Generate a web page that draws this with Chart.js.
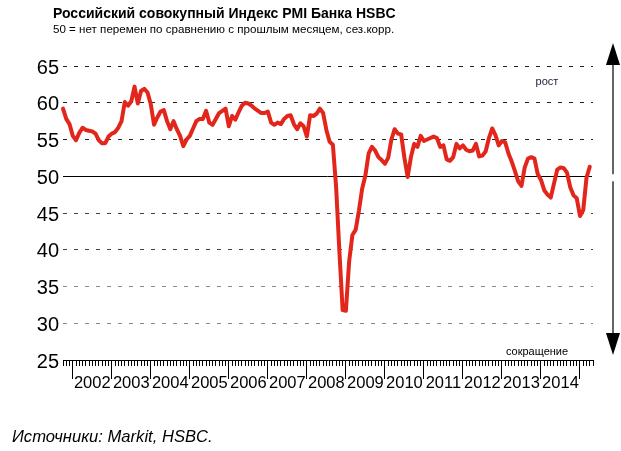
<!DOCTYPE html>
<html>
<head>
<meta charset="utf-8">
<script src="https://cdn.jsdelivr.net/npm/chart.js@4.4.0/dist/chart.umd.min.js"></script>
<style>
    body { margin: 0; background: #fff; }
    #wrap { position: relative; width: 621px; height: 451px; font-family: "Liberation Sans", Arial, sans-serif; color: #000; }
    #chart { position: absolute; left: 0; top: 0; }
    .title { position: absolute; left: 53px; top: 5px; font-weight: bold; font-size: 14px; white-space: nowrap; }
    .sub { position: absolute; left: 53px; top: 22px; font-size: 11.6px; white-space: nowrap; }
    .src { position: absolute; left: 12px; top: 427px; font-style: italic; font-size: 16.6px; white-space: nowrap; }
</style>
</head>
<body>
<div id="wrap">
    <canvas id="chart" width="621" height="451"></canvas>
    <div class="title">Российский совокупный Индекс PMI Банка HSBC</div>
    <div class="sub">50 = нет перемен по сравнению с прошлым месяцем, сез.корр.</div>
    <div class="src">Источники: Markit, HSBC.</div>
</div>
<script>
//первый месяц ряда: октябрь 2001
var startYear = 2001
var startMonth = 10
//композитный PMI, помесячно (окт 2001 - апр 2015)
var pmi = [
    59.2, 57.8, 57.1,
    55.5, 54.9, 55.9, 56.6, 56.3, 56.2, 56.1, 55.8, 54.9, 54.5, 54.5, 55.4,
    55.8, 56.0, 56.6, 57.5, 60.1, 59.6, 60.2, 62.2, 59.9, 61.6, 61.9, 61.4,
    59.8, 57.0, 58.0, 58.8, 59.0, 57.5, 56.4, 57.5, 56.4, 55.5, 54.1, 55.0,
    55.5, 56.5, 57.5, 57.8, 57.8, 58.9, 57.3, 57.0, 57.8, 58.6, 58.9, 59.2,
    56.8, 58.2, 57.7, 58.7, 59.6, 60.0, 59.9, 59.6, 59.2, 58.9, 58.6, 58.6,
    58.8, 57.3, 57.0, 57.3, 57.1, 57.8, 58.2, 58.3, 57.1, 56.4, 57.2, 56.8,
    55.4, 58.3, 58.2, 58.5, 59.2, 58.6, 56.3, 54.7, 54.3, 48.5, 39.8, 31.8,
    31.7, 38.4, 42.0, 42.7, 45.3, 48.3, 50.1, 53.1, 54.0, 53.5, 52.6, 52.2,
    51.7, 52.5, 55.0, 56.4, 55.8, 55.7, 52.5, 49.9, 52.6, 54.4, 54.0, 55.5,
    54.8, 55.0, 55.2, 55.4, 55.2, 54.0, 54.2, 52.3, 52.1, 52.6, 54.4, 53.8,
    54.2, 53.6, 53.4, 53.5, 54.4, 52.7, 52.8, 53.4, 55.2, 56.5, 55.6, 54.2,
    54.8, 54.6, 53.1, 52.0, 50.7, 49.3, 48.7, 51.2, 52.4, 52.6, 52.4, 50.3,
    49.5, 48.1, 47.5, 47.1, 49.0, 50.9, 51.2, 51.1, 50.5, 48.5, 47.4, 47.0,
    44.6, 45.4, 49.8, 51.3
]
var yearLabels = ['2002', '2003', '2004', '2005', '2006', '2007', '2008',
    '2009', '2010', '2011', '2012', '2013', '2014']
var yTicks = [25, 30, 35, 40, 45, 50, 55, 60, 65]

var $font = '"Liberation Sans", Arial, sans-serif'
//ось x: месяцы от января 2002
var offset = (startYear - 2002) * 12 + (startMonth - 1)
var points = pmi.map(function (v, i) { return { x: offset + i, y: v } })
var xMin = offset
var xMax = offset + pmi.length
var monthTicks = []
for (var m = xMin; m <= xMax; m++) monthTicks.push({ value: m })
var yearTicks = []
for (var k = 0; k <= yearLabels.length; k++) yearTicks.push({ value: k * 12 })

//линия 50, стрелка и подписи рост/сокращение
var extras = {
    id: 'extras',
    beforeDatasetsDraw: function (chart) {
        var ctx = chart.ctx, area = chart.chartArea, y = chart.scales.y
        var py = Math.round(y.getPixelForValue(50)) + 0.5
        ctx.save()
        ctx.strokeStyle = '#000'
        ctx.lineWidth = 1
        ctx.beginPath()
        ctx.moveTo(area.left, py)
        ctx.lineTo(area.right - 1, py)
        ctx.stroke()
        ctx.restore()
    },
    afterDraw: function (chart) {
        var ctx = chart.ctx, area = chart.chartArea, y = chart.scales.y
        var ax = area.right + 20
        var top = area.top - 23
        var bottom = area.bottom - 5
        var mid = y.getPixelForValue(50)
        ctx.save()
        ctx.strokeStyle = '#000'
        ctx.fillStyle = '#000'
        ctx.lineWidth = 1.2
        ctx.beginPath()
        ctx.moveTo(ax, top + 10); ctx.lineTo(ax, mid - 2)
        ctx.moveTo(ax, mid + 5); ctx.lineTo(ax, bottom - 10)
        ctx.stroke()
        ctx.beginPath()
        ctx.moveTo(ax, top); ctx.lineTo(ax - 7, top + 22); ctx.lineTo(ax + 7, top + 22)
        ctx.closePath(); ctx.fill()
        ctx.beginPath()
        ctx.moveTo(ax, bottom); ctx.lineTo(ax - 7, bottom - 22); ctx.lineTo(ax + 7, bottom - 22)
        ctx.closePath(); ctx.fill()
        ctx.font = '11px ' + $font
        ctx.textAlign = 'center'
        ctx.textBaseline = 'middle'
        ctx.fillStyle = '#1c1c3c'
        ctx.fillText('рост', area.right - 46, y.getPixelForValue(62.8))
        ctx.fillStyle = '#000'
        ctx.fillText('сокращение', area.right - 56, area.bottom - 8)
        ctx.restore()
    }
}

var ctx = document.getElementById('chart').getContext('2d')
var chart = new Chart(ctx, {
    type: 'line',
    data: {
        datasets: [{
            data: points,
            borderColor: '#e3261c',
            borderWidth: 4,
            pointRadius: 0,
            tension: 0,
            fill: false,
            borderJoinStyle: 'round',
            borderCapStyle: 'round',
            clip: false
        }]
    },
    options: {
        responsive: false,
        animation: false,
        layout: { padding: { left: 0, right: 28, top: 66, bottom: 91 } },
        plugins: { legend: { display: false }, tooltip: { enabled: false } },
        scales: {
            x: {
                type: 'linear', min: xMin, max: xMax, position: { y: 25 },
                afterBuildTicks: function (s) { s.ticks = monthTicks },
                grid: { drawOnChartArea: false, tickLength: 5, tickColor: '#000', tickWidth: 1 },
                border: { display: true, color: '#000', width: 1 },
                ticks: { display: false, autoSkip: false }
            },
            x2: {
                type: 'linear', axis: 'x', min: xMin, max: xMax, position: { y: 25 },
                afterBuildTicks: function (s) { s.ticks = yearTicks },
                grid: { drawOnChartArea: false, tickLength: 19, tickColor: '#000', tickWidth: 1 },
                border: { display: false },
                ticks: {
                    autoSkip: false, maxRotation: 0, minRotation: 0,
                    labelOffset: 19.5, padding: -5, color: '#000',
                    font: { size: 16.5, family: $font },
                    callback: function (v) { return yearLabels[v / 12] || '' }
                }
            },
            y: {
                min: 25, max: 65,
                afterBuildTicks: function (s) { s.ticks = yTicks.map(function (v) { return { value: v } }) },
                afterFit: function (s) { s.width = 63 },
                border: { display: false, dash: [4, 7] },
                grid: {
                    drawTicks: false,
                    lineWidth: 1,
                    color: function (c) {
                        var v = c.tick.value
                        if (v == 25 || v == 50) return 'rgba(0,0,0,0)'
                        if (v <= 35) return '#8a8a8a'
                        if (v <= 45) return '#444'
                        return '#222'
                    }
                },
                ticks: { padding: 4, labelOffset: 2, color: '#000', font: { size: 20, family: $font } }
            }
        }
    },
    plugins: [extras]
})
</script>
</body>
</html>
